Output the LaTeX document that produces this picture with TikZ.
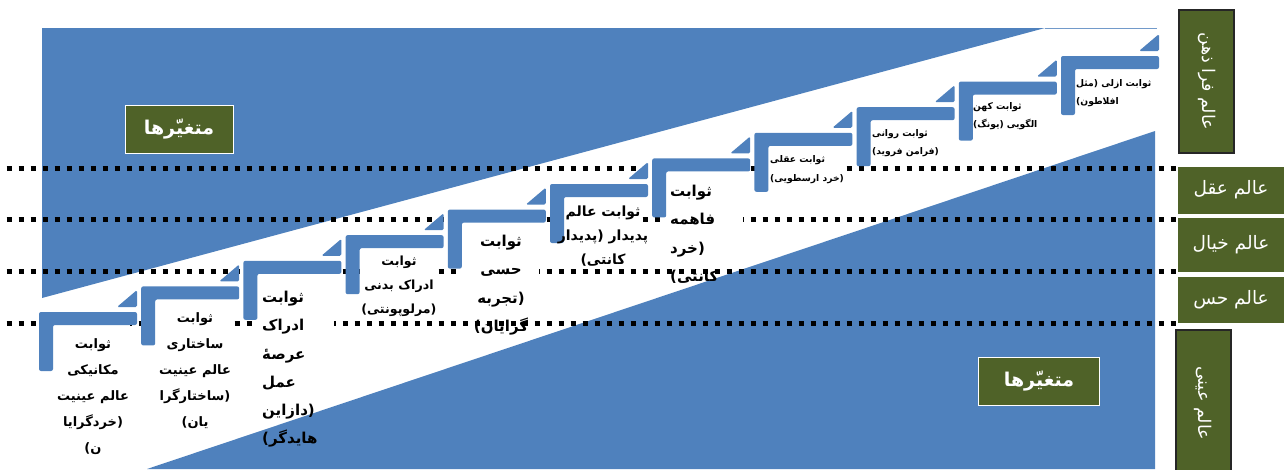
\documentclass[tikz,border=0pt]{standalone}
\usepackage{fontspec}
\newfontfamily\arfont[Script=Arabic]{DejaVu Sans}
\TeXXeTstate=1
\newcommand{\myR}[1]{\beginR #1\endR}
\definecolor{sblue}{RGB}{79,129,189}
\definecolor{sgreen}{RGB}{79,98,40}
\tikzset{
  stepshape/.pic={
    \fill[sblue, rounded corners=2pt] (0,0) -- (98,0) -- (98,13) -- (14,13) -- (14,59) -- (0,59) -- cycle;
    \fill[sblue, rounded corners=1.5pt] (98,-22) -- (98,-5) -- (78,-5) -- cycle;
  },
  dotline/.style={line width=5pt, dash pattern=on 5pt off 7pt, black},
  steptext/.style={inner sep=0pt, text=black, align=center, anchor=north},
  lefttext/.style={inner sep=0pt, text=black, align=left, anchor=north west},
  greenbox/.style={fill=sgreen, draw=white, line width=1pt, text=white, inner sep=0pt},
  darkbox/.style={fill=sgreen, draw=black!85, line width=1.2pt, text=white, inner sep=0pt},
}
\begin{document}
\begin{tikzpicture}[x=1pt,y=-1pt]
\useasboundingbox (0,0) rectangle (1284,469);
% blue regions
\coordinate (ub1) at (42,28);
\coordinate (ub2) at (1045,28);
\coordinate (ub3) at (42,298);
\coordinate (ubr) at (1157,28);
\fill[sblue] (ub1) -- (ub2) -- (ub3) -- cycle;
\draw[sblue!80, line width=1pt] (ub2) -- (ubr);
\coordinate (lb1) at (147,469);
\coordinate (lb2) at (1155,131);
\coordinate (lb3) at (1155,469);
\fill[sblue] (lb1) -- (lb2) -- (lb3) -- cycle;

% dotted lines
\foreach \n/\yy in {a/168, b/219, c/271, d/323} {
  \coordinate (\n s) at (6.5,\yy);
  \coordinate (\n e) at (1176,\yy);
  \draw[dotline] (\n s) -- (\n e);
}

% white text areas of the lower steps
\foreach \i in {0,...,7} {
  \fill[white] ({39+102.2*\i+14},{312-25.6*\i+13}) rectangle ({39+102.2*\i+91},{312-25.6*\i+75});
}

% steps
\foreach \i in {0,...,10} {
  \pic (st\i) at ({39+102.2*\i},{312-25.6*\i}) {stepshape};
}

% step texts
\node[steptext, font=\arfont\bfseries\fontsize{13}{26.2}\selectfont] (t1) at (93,338)
  {\myR{ثوابت}\\ \myR{مکانیکی}\\ \myR{عالم عینیت}\\ \myR{(خردگرایا}\\ \myR{ن)}};
\node[steptext, font=\arfont\bfseries\fontsize{13}{26.2}\selectfont] (t2) at (195,312)
  {\myR{ثوابت}\\ \myR{ساختاری}\\ \myR{عالم عینیت}\\ \myR{(ساختارگرا}\\ \myR{یان)}};
\node[lefttext, font=\arfont\bfseries\fontsize{15}{28.2}\selectfont] (t3) at (262,291)
  {\myR{ثوابت}\\ \myR{ادراک}\\ \myR{عرصهٔ}\\ \myR{عمل}\\ \myR{(دازاین}\\ \myR{هایدگر)}};
\node[steptext, font=\arfont\bfseries\fontsize{12.6}{24}\selectfont] (t4) at (399,256)
  {\myR{ثوابت}\\ \myR{ادراک بدنی}\\ \myR{(مرلوپونتی)}};
\node[steptext, font=\arfont\bfseries\fontsize{15}{28.3}\selectfont] (t5) at (501,235)
  {\myR{ثوابت}\\ \myR{حسی}\\ \myR{(تجربه}\\ \myR{گرایان)}};
\node[steptext, font=\arfont\bfseries\fontsize{14}{24}\selectfont] (t6) at (603,206)
  {\myR{ثوابت عالم}\\ \myR{پدیدار (پدیدار}\\ \myR{کانتی)}};
\node[lefttext, font=\arfont\bfseries\fontsize{15}{28.3}\selectfont] (t7) at (670,185)
  {\myR{ثوابت}\\ \myR{فاهمه}\\ \myR{(خرد}\\ \myR{کانتی)}};
\node[lefttext, font=\arfont\bfseries\fontsize{9.2}{19}\selectfont] (t8) at (770,155)
  {\myR{ثوابت عقلی}\\ \myR{(خرد ارسطویی)}};
\node[lefttext, font=\arfont\bfseries\fontsize{9.2}{18}\selectfont] (t9) at (872,129)
  {\myR{ثوابت روانی}\\ \myR{(فرامن فروید)}};
\node[lefttext, font=\arfont\bfseries\fontsize{9.2}{18}\selectfont] (t10) at (973,102)
  {\myR{ثوابت کهن}\\ \myR{الگویی (یونگ)}};
\node[lefttext, font=\arfont\bfseries\fontsize{9.2}{18}\selectfont] (t11) at (1076,79)
  {\myR{ثوابت  ازلی (مثل}\\ \myR{افلاطون)}};

% green boxes
\node[greenbox, minimum width=108pt, minimum height=48pt, font=\arfont\bfseries\fontsize{19}{24}\selectfont] (v1) at (179,129) {\myR{متغیّرها}};
\node[greenbox, minimum width=121pt, minimum height=48pt, font=\arfont\bfseries\fontsize{19}{24}\selectfont] (v2) at (1039,381) {\myR{متغیّرها}};

\node[darkbox, rotate=-90, minimum width=143pt, minimum height=55pt, font=\arfont\fontsize{17.5}{20}\selectfont] (w1) at (1206.5,81.5) {\myR{عالم فرا ذهن}};
\node[greenbox, minimum width=108pt, minimum height=48pt, font=\arfont\fontsize{18.5}{20}\selectfont] (w2) at (1231,190) {\myR{عالم عقل}};
\node[greenbox, minimum width=108pt, minimum height=55pt, font=\arfont\fontsize{18.5}{20}\selectfont] (w3) at (1231,244.5) {\myR{عالم خیال}};
\node[greenbox, minimum width=108pt, minimum height=47pt, font=\arfont\fontsize{18.5}{20}\selectfont] (w4) at (1231,299.5) {\myR{عالم حس}};
\node[darkbox, rotate=-90, minimum width=146pt, minimum height=55pt, font=\arfont\fontsize{17.5}{20}\selectfont] (w5) at (1203.5,403) {\myR{عالم عینی}};
\end{tikzpicture}
\end{document}
